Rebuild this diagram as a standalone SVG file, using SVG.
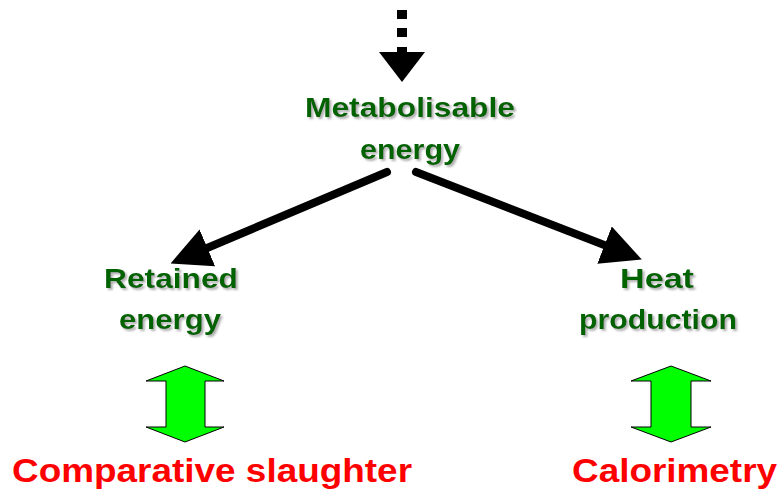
<svg xmlns="http://www.w3.org/2000/svg" width="784" height="497" viewBox="0 0 784 497">
<defs>
<style>
.g{font-family:"Liberation Sans",Arial,sans-serif;font-weight:bold;font-size:28px;fill:#006400;text-anchor:middle;filter:url(#shadow)}
.r{font-family:"Liberation Sans",Arial,sans-serif;font-weight:bold;font-size:33px;fill:#ff0000}
.c{stroke:#000;stroke-width:8;stroke-linecap:round;fill:none}
.dbl{fill:#00ff00;stroke:#000;stroke-width:1}
</style>
<filter id="shadow" x="-10%" y="-20%" width="120%" height="150%">
<feDropShadow dx="2" dy="2" stdDeviation="0.8" flood-color="#999" flood-opacity="0.8"/>
</filter>
<marker id="ah" viewBox="0 0 10 10" refX="2" refY="5" markerWidth="5" markerHeight="5" orient="auto" markerUnits="strokeWidth">
<path d="M0,0 L10,5 L0,10 z" fill="#000"/>
</marker>
</defs>
<rect width="784" height="497" fill="#fff"/>
<g id="connectors">
<rect x="397" y="10" width="10" height="9" fill="#000"/>
<rect x="397" y="28" width="10" height="9" fill="#000"/>
<rect x="397" y="47" width="10" height="6" fill="#000"/>
<path d="M379,52 L425,52 L402,82 z" fill="#000"/>
<line class="c" x1="387" y1="172" x2="200" y2="251" marker-end="url(#ah)"/>
<line class="c" x1="416" y1="172" x2="612" y2="248" marker-end="url(#ah)"/>
</g>
<g id="metabolisable">
<text class="g" x="410" y="117" textLength="210" lengthAdjust="spacingAndGlyphs">Metabolisable</text>
<text class="g" x="410" y="159" textLength="100" lengthAdjust="spacingAndGlyphs">energy</text>
</g>
<g id="retained">
<text class="g" x="171" y="288" textLength="134" lengthAdjust="spacingAndGlyphs">Retained</text>
<text class="g" x="170" y="329" textLength="102" lengthAdjust="spacingAndGlyphs">energy</text>
</g>
<g id="heat">
<text class="g" x="657" y="288" textLength="74" lengthAdjust="spacingAndGlyphs">Heat</text>
<text class="g" x="658" y="329" textLength="158" lengthAdjust="spacingAndGlyphs">production</text>
</g>
<g id="arrow-left">
<path class="dbl" d="M185,366 L224,381 L205,381 L205,427 L224,427 L185,442 L146,427 L166,427 L166,381 L146,381 z"/>
</g>
<g id="arrow-right">
<path class="dbl" d="M671,366 L711,381 L691,381 L691,427 L711,427 L671,442 L631,427 L651,427 L651,381 L631,381 z"/>
</g>
<g id="comparative">
<text class="r" x="12" y="482" textLength="400" lengthAdjust="spacingAndGlyphs">Comparative slaughter</text>
</g>
<g id="calorimetry">
<text class="r" x="572" y="482" textLength="205" lengthAdjust="spacingAndGlyphs">Calorimetry</text>
</g>
</svg>
